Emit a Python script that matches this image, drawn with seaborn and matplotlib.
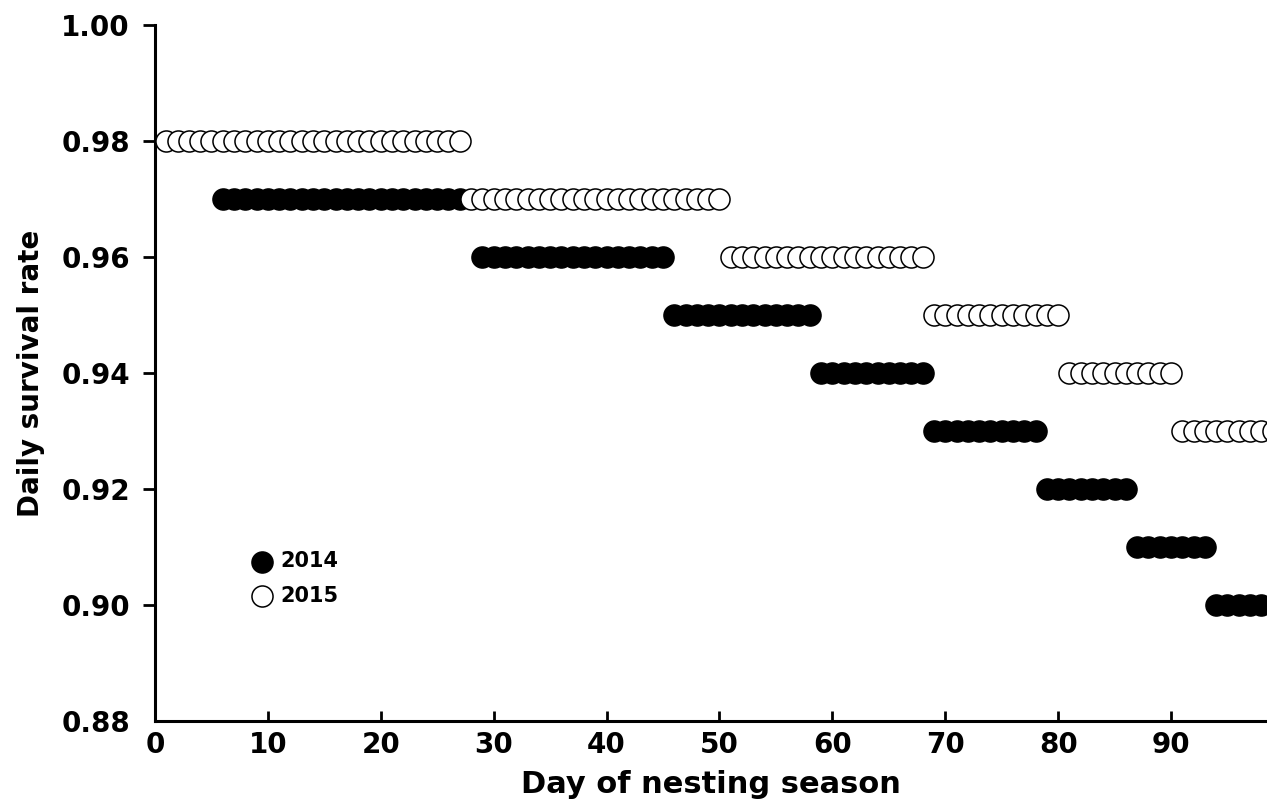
import pandas as pd
import numpy as np
import matplotlib
matplotlib.use("Agg")
import matplotlib.pyplot as plt
import seaborn as sns

# segments of constant daily survival rate (first day, last day, rate)
start_2014 = [6, 29, 46, 59, 69, 79, 87, 94]
end_2014 = [27, 45, 58, 68, 78, 86, 93, 99]
rate_2014 = [0.97, 0.96, 0.95, 0.94, 0.93, 0.92, 0.91, 0.90]

start_2015 = [1, 28, 51, 69, 81, 91]
end_2015 = [27, 50, 68, 80, 90, 99]
rate_2015 = [0.98, 0.97, 0.96, 0.95, 0.94, 0.93]

x_ticks = [0, 10, 20, 30, 40, 50, 60, 70, 80, 90]
y_ticks = [0.88, 0.90, 0.92, 0.94, 0.96, 0.98, 1.00]


def to_days(starts, ends, rates):
    rows = []
    for s, e, r in zip(starts, ends, rates):
        for d in range(s, e + 1):
            rows.append((d, r))
    return pd.DataFrame(rows, columns=["day", "dsr"])


df14 = to_days(start_2014, end_2014, rate_2014)
df15 = to_days(start_2015, end_2015, rate_2015)

sns.set_style("ticks")
plt.rcParams["font.family"] = ["DejaVu Sans"]
plt.rcParams["font.weight"] = "bold"
plt.rcParams["text.color"] = "black"
plt.rcParams["axes.labelcolor"] = "black"

fig = plt.figure(figsize=(12.67, 8.02), dpi=100)
ax = fig.add_axes([0.1223, 0.101, 0.8777, 0.8678])

#---------- 2014 filled, 2015 open on top
sns.scatterplot(data=df14, x="day", y="dsr", ax=ax, s=230, color="black",
                edgecolor="black", linewidth=1.1, label="2014", zorder=3)
sns.scatterplot(data=df15, x="day", y="dsr", ax=ax, s=230, color="white",
                edgecolor="black", linewidth=1.1, label="2015", zorder=4)

ax.set_xlim(0, 98.5)
ax.set_ylim(0.88, 1.00)
ax.set_xticks(x_ticks)
ax.set_yticks(y_ticks)
ax.set_yticklabels([f"{v:.2f}" for v in y_ticks])

for side in ["top", "right"]:
    ax.spines[side].set_visible(False)
for side in ["left", "bottom"]:
    ax.spines[side].set_linewidth(2.2)
    ax.spines[side].set_color("black")

ax.tick_params(axis="y", direction="out", length=9, width=2, pad=9,
               labelsize=20, colors="black")
ax.tick_params(axis="x", direction="in", length=7, width=2, pad=7,
               labelsize=20, colors="black")
ax.yaxis.get_major_ticks()[0].tick1line.set_visible(False)
for lab in ax.get_xticklabels() + ax.get_yticklabels():
    lab.set_fontweight("bold")

ax.set_xlabel("Day of nesting season", fontsize=22, fontweight="bold",
              labelpad=8, color="black")
ax.set_ylabel("Daily survival rate", fontsize=20, fontweight="bold",
              labelpad=12, color="black")

leg = ax.legend(loc="upper left", bbox_to_anchor=(0.0869, 0.2443), frameon=False,
                borderpad=0, borderaxespad=0, handlelength=1.0, handletextpad=0.4,
                labelspacing=0.7, prop={"size": 15, "weight": "bold"})
for t in leg.get_texts():
    t.set_color("black")

ax.grid(False)
fig.savefig("out.png", dpi=100, facecolor="white")
